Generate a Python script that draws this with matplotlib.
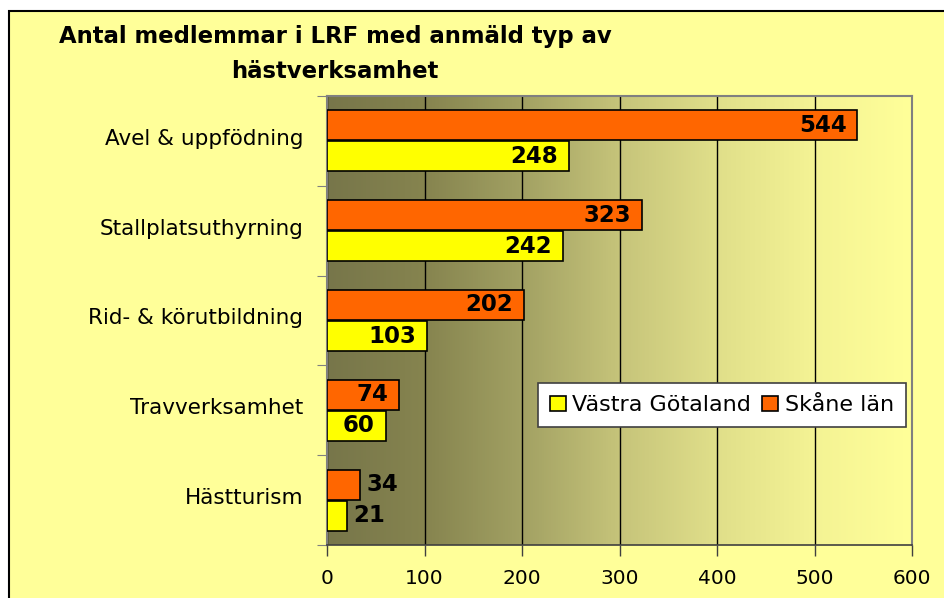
import numpy as np
import matplotlib
matplotlib.use('Agg')
import matplotlib.pyplot as plt
import matplotlib.transforms as mtransforms
from matplotlib.colors import LinearSegmentedColormap
from matplotlib.patches import Rectangle

#%% Data
categories = ['Avel & uppfödning', 'Stallplatsuthyrning', 'Rid- & körutbildning',
              'Travverksamhet', 'Hästturism']
vastra_gotaland = [248, 242, 103, 60, 21]
skane = [544, 323, 202, 74, 34]
xticks = [0, 100, 200, 300, 400, 500, 600]

#%% Figure
fig = plt.figure(figsize=(9.44, 5.98), dpi=100, facecolor='white')
# yellow chart area with a black frame (runs off the right/bottom edge)
fig.patches.append(Rectangle((9/944, -0.05), 1.0, 1 - 11/598 + 0.05,
                             transform=fig.transFigure, facecolor='#FFFF99',
                             edgecolor='black', linewidth=1.5, zorder=-5))

ax = fig.add_axes([327/944, 1 - 545/598, (912 - 327)/944, (545 - 96)/598])

# gradient in the plot area
stops = ['#77764A', '#86844F', '#A2A163', '#C6C47A', '#E0DF8A', '#F4F394', '#FFFF99']
cmap = LinearSegmentedColormap.from_list('bg', stops)
grad = np.linspace(0, 1, 512).reshape(1, -1)
ax.imshow(grad, cmap=cmap, aspect='auto', extent=(0, 1, 0, 1),
          transform=ax.transAxes, zorder=0)

y = np.arange(len(categories))
h = 0.335
off = 0.173
ax.barh(y - off, skane, height=h, color='#FF6600', edgecolor='black',
        linewidth=1.2, label='Skåne län', zorder=3)
ax.barh(y + off, vastra_gotaland, height=h, color='#FFFF00', edgecolor='black',
        linewidth=1.2, label='Västra Götaland', zorder=3)

# data labels
lab_font = dict(fontsize=16.5, fontweight='bold', family='DejaVu Sans', zorder=4)
for yy, v in zip(y - off, skane):
    if v > 50:
        ax.text(v - 11, yy, str(v), ha='right', va='center', **lab_font)
    else:
        ax.text(v + 6, yy, str(v), ha='left', va='center', **lab_font)
for yy, v in zip(y + off, vastra_gotaland):
    if v > 50:
        ax.text(v - 11, yy, str(v), ha='right', va='center', **lab_font)
    else:
        ax.text(v + 6, yy, str(v), ha='left', va='center', **lab_font)

ax.set_xlim(0, 600)
ax.set_ylim(len(categories) - 0.5, -0.5)
ax.set_facecolor('none')

ax.set_xticks(xticks)
ax.set_xticklabels([str(t) for t in xticks], fontsize=14.5)
ax.tick_params(axis='x', length=8, width=1, color='#404040', pad=9)
ax.xaxis.grid(True, color='black', linewidth=1)
ax.set_axisbelow(True)
for gl in ax.get_xgridlines():
    gl.set_zorder(1)

# category boundaries as ticks, names in between
ax.set_yticks(np.arange(len(categories) + 1) - 0.5)
ax.set_yticklabels([])
ax.set_yticks(y, minor=True)
ax.set_yticklabels(categories, minor=True, fontsize=15.5)
ax.tick_params(axis='y', which='major', length=7, color='#808080')
ax.tick_params(axis='y', which='minor', length=0, pad=17)
shift = mtransforms.ScaledTranslation(0, 4/100, fig.dpi_scale_trans)
for t in ax.get_yticklabels(minor=True):
    t.set_transform(t.get_transform() + shift)

for s in ['top', 'right', 'left']:
    ax.spines[s].set_color('#808080')
    ax.spines[s].set_linewidth(1.5)
ax.spines['bottom'].set_color('#404040')
ax.spines['bottom'].set_linewidth(1.2)

# legend
handles, labels = ax.get_legend_handles_labels()
leg = ax.legend(handles[::-1], labels[::-1], ncol=2, loc='upper left',
                bbox_to_anchor=((538 - 327)/585, 1 - (383 - 96)/449),
                fontsize=16, frameon=True, fancybox=False, handlelength=0.7,
                handleheight=0.7, handletextpad=0.3, columnspacing=0.5,
                borderpad=0.55, borderaxespad=0)
leg.get_frame().set_edgecolor('#404040')
leg.get_frame().set_linewidth(1.2)
leg.get_frame().set_facecolor('white')
leg.get_frame().set_alpha(1)

# title
fig.text(335/944, 1 - 37/598, 'Antal medlemmar i LRF med anmäld typ av',
         ha='center', va='center', fontsize=16.4, fontweight='bold')
fig.text(335/944, 1 - 72/598, 'hästverksamhet',
         ha='center', va='center', fontsize=16.4, fontweight='bold')

fig.savefig('out.png', dpi=100, facecolor=fig.get_facecolor())
